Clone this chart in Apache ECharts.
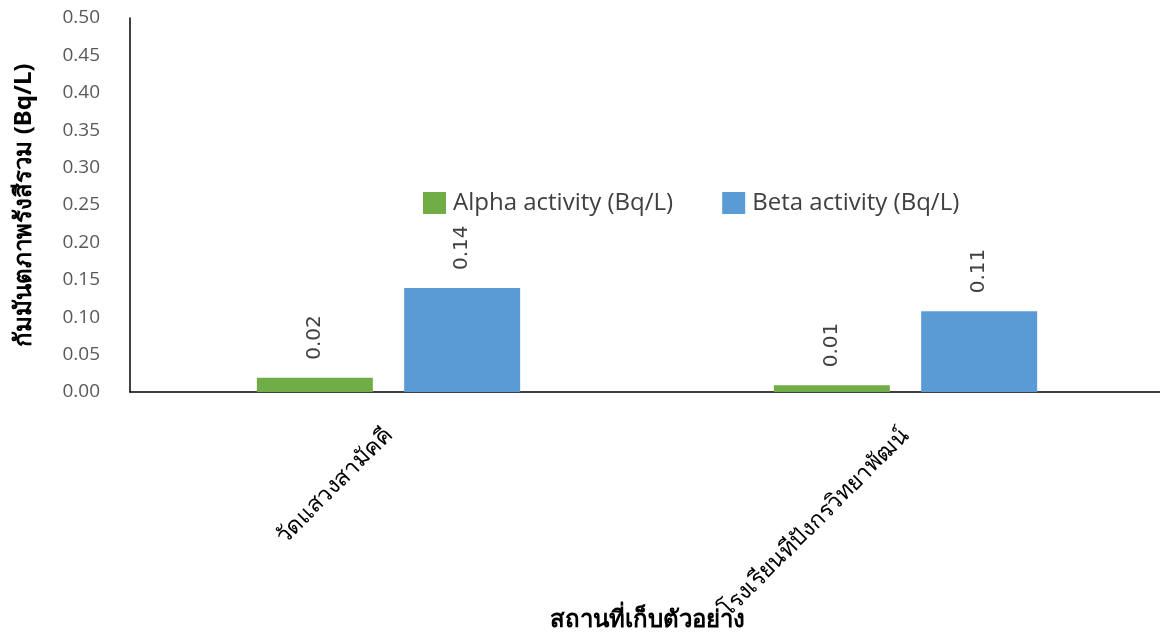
<!DOCTYPE html>
<html>
<head>
<meta charset="utf-8">
<script src="https://cdn.jsdelivr.net/npm/echarts@6/dist/echarts.min.js"></script>
<style>
  html, body { margin: 0; padding: 0; background: #fff; }
  #chart { width: 1160px; height: 638px; }
</style>
</head>
<body>
<div id="chart"></div>
<script>
var categories = ['วัดแสวงสามัคคี', 'โรงเรียนทีปังกรวิทยาพัฒน์'];
var alphaValues = [0.019, 0.009];
var betaValues = [0.139, 0.108];
var seriesNames = ['Alpha activity (Bq/L)', 'Beta activity (Bq/L)'];
var colors = ['#70AD47', '#5B9BD5'];

var chart = echarts.init(document.getElementById('chart'));

var barLabel = {
  show: true,
  position: 'top',
  rotate: 90,
  align: 'left',
  verticalAlign: 'middle',
  distance: 18,
  fontSize: 20,
  color: '#404040',
  fontFamily: 'DejaVu Sans',
  formatter: function (p) { return p.value.toFixed(2); }
};

var options = {
  animation: false,
  color: colors,
  grid: { left: 130, right: -4, top: 18, bottom: 246, outerBoundsMode: 'none', containLabel: false },
  legend: {
    left: 418,
    top: 186,
    itemWidth: 23,
    itemHeight: 22,
    itemGap: 49,
    icon: 'rect',
    textStyle: { fontSize: 24, color: '#404040', fontFamily: 'Open Sans', padding: [0, 0, 0, 2] },
    data: seriesNames
  },
  xAxis: {
    type: 'category',
    data: categories,
    name: 'สถานที่เก็บตัวอย่าง',
    nameLocation: 'middle',
    nameGap: 216,
    nameMoveOverlap: false,
    nameTextStyle: { fontSize: 24, fontWeight: 'bold', color: '#000', fontFamily: 'Noto Sans' },
    axisLine: { lineStyle: { color: '#000', width: 1.5 } },
    axisTick: { show: false },
    axisLabel: { rotate: 45, fontSize: 23, color: '#000', margin: 40, fontFamily: 'Noto Sans' }
  },
  yAxis: {
    type: 'value',
    min: 0,
    max: 0.5,
    interval: 0.05,
    name: 'กัมมันตภาพรังสีรวม (Bq/L)',
    nameLocation: 'middle',
    nameGap: 94,
    nameRotate: 90,
    nameMoveOverlap: false,
    nameTextStyle: { fontSize: 24, fontWeight: 'bold', color: '#000', fontFamily: 'Noto Sans' },
    axisLine: { show: true, lineStyle: { color: '#000', width: 1.5 } },
    axisTick: { show: false },
    splitLine: { show: false },
    axisLabel: {
      fontSize: 19,
      color: '#595959',
      margin: 30,
      fontFamily: 'Open Sans',
      formatter: function (v) { return v.toFixed(2); }
    }
  },
  series: [
    {
      name: seriesNames[0],
      type: 'bar',
      data: alphaValues,
      barWidth: 116,
      barGap: '27%',
      label: barLabel
    },
    {
      name: seriesNames[1],
      type: 'bar',
      data: betaValues,
      barWidth: 116,
      barGap: '27%',
      label: barLabel
    }
  ]
};

chart.setOption(options);
</script>
</body>
</html>
